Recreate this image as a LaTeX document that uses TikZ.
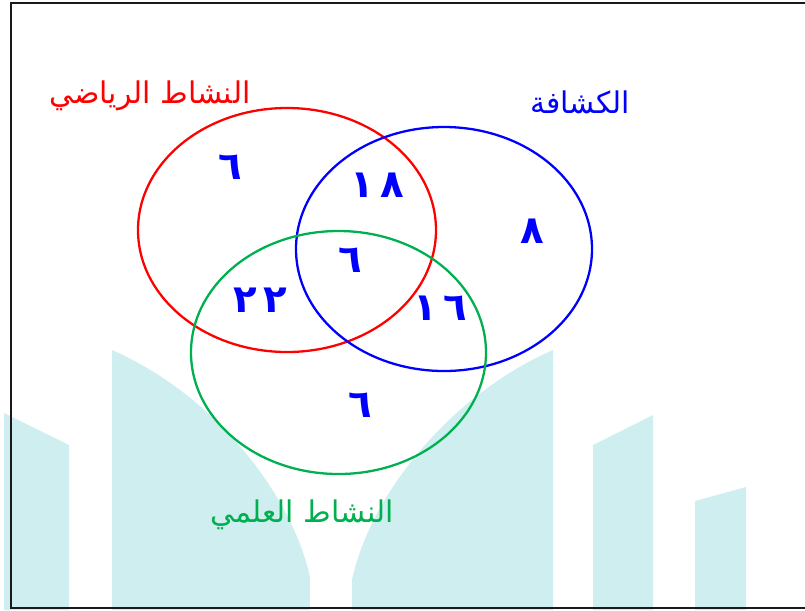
\documentclass[tikz,border=0pt]{standalone}
\usepackage{fontspec}
\TeXXeTstate=1
\newfontfamily\arabicfont[Script=Arabic]{DejaVu Sans}
\usetikzlibrary{positioning}
\definecolor{vennRed}{HTML}{FF0000}
\definecolor{vennBlue}{HTML}{0000FF}
\definecolor{vennGreen}{HTML}{00B050}
\definecolor{vennWater}{HTML}{CFEEF0}
\definecolor{vennFrame}{HTML}{1A1A1A}
\tikzset{
  vennSet/.style={line width=1.3pt},
  vennFrameLine/.style={draw=vennFrame, line width=1.5pt},
  waterShape/.style={fill=vennWater, draw=none},
  setLabel/.style={
    font=\arabicfont\fontsize{17}{20}\selectfont,
    inner sep=0pt
  },
  countLabel/.style={
    font=\arabicfont\bfseries\fontsize{22}{24}\selectfont,
    text=vennBlue,
    inner sep=0pt
  }
}

\begin{document}
\begin{tikzpicture}[x=0.02cm,y=-0.02cm]
  \useasboundingbox (0,0) rectangle (805,610);

  % background watermark
  \fill[waterShape] (4,610) -- (4,413) -- (69,445) -- (69,610) -- cycle;
  \fill[waterShape] (112,610) -- (112,350)
    .. controls (215,395) and (292,495) .. (310,577) -- (310,610) -- cycle;
  \fill[waterShape] (553,610) -- (553,350)
    .. controls (450,395) and (370,495) .. (352,580) -- (352,610) -- cycle;
  \fill[waterShape] (593,610) -- (593,445) -- (653,415) -- (653,610) -- cycle;
  \fill[waterShape] (695,610) -- (695,501) -- (746,487) -- (746,610) -- cycle;

  % frame
  \draw[vennFrameLine] (805,3) -- (11,3) -- (11,608) -- (805,608);

  % the three sets
  \draw[vennSet, draw=vennRed] (287,230) ellipse [x radius=149, y radius=122];
  \draw[vennSet, draw=vennBlue] (444,249) ellipse [x radius=148, y radius=122];
  \draw[vennSet, draw=vennGreen] (338.5,352.5) ellipse [x radius=147.5, y radius=121.5];

  \node[setLabel, text=vennRed] (sportLabel) at (150,96)
    {\beginR النشاط الرياضي\endR};
  \node[setLabel, text=vennBlue] (scoutLabel) at (580,102)
    {\beginR الكشافة\endR};
  \node[setLabel, text=vennGreen] (scienceLabel) at (302,515)
    {\beginR النشاط العلمي\endR};

  \foreach \nm/\px/\py/\val in {sportOnly/230/167/٦, sportScout/377/185/١\,٨,
      allThree/350/260/٦, sportScience/260/300/٢\,٢, scoutScience/440/308/١\,٦,
      scienceOnly/360/405/٦, scoutOnly/532/231/٨} {
    \node[countLabel] (\nm) at (\px,\py) {\val};
  }
\end{tikzpicture}
\end{document}
